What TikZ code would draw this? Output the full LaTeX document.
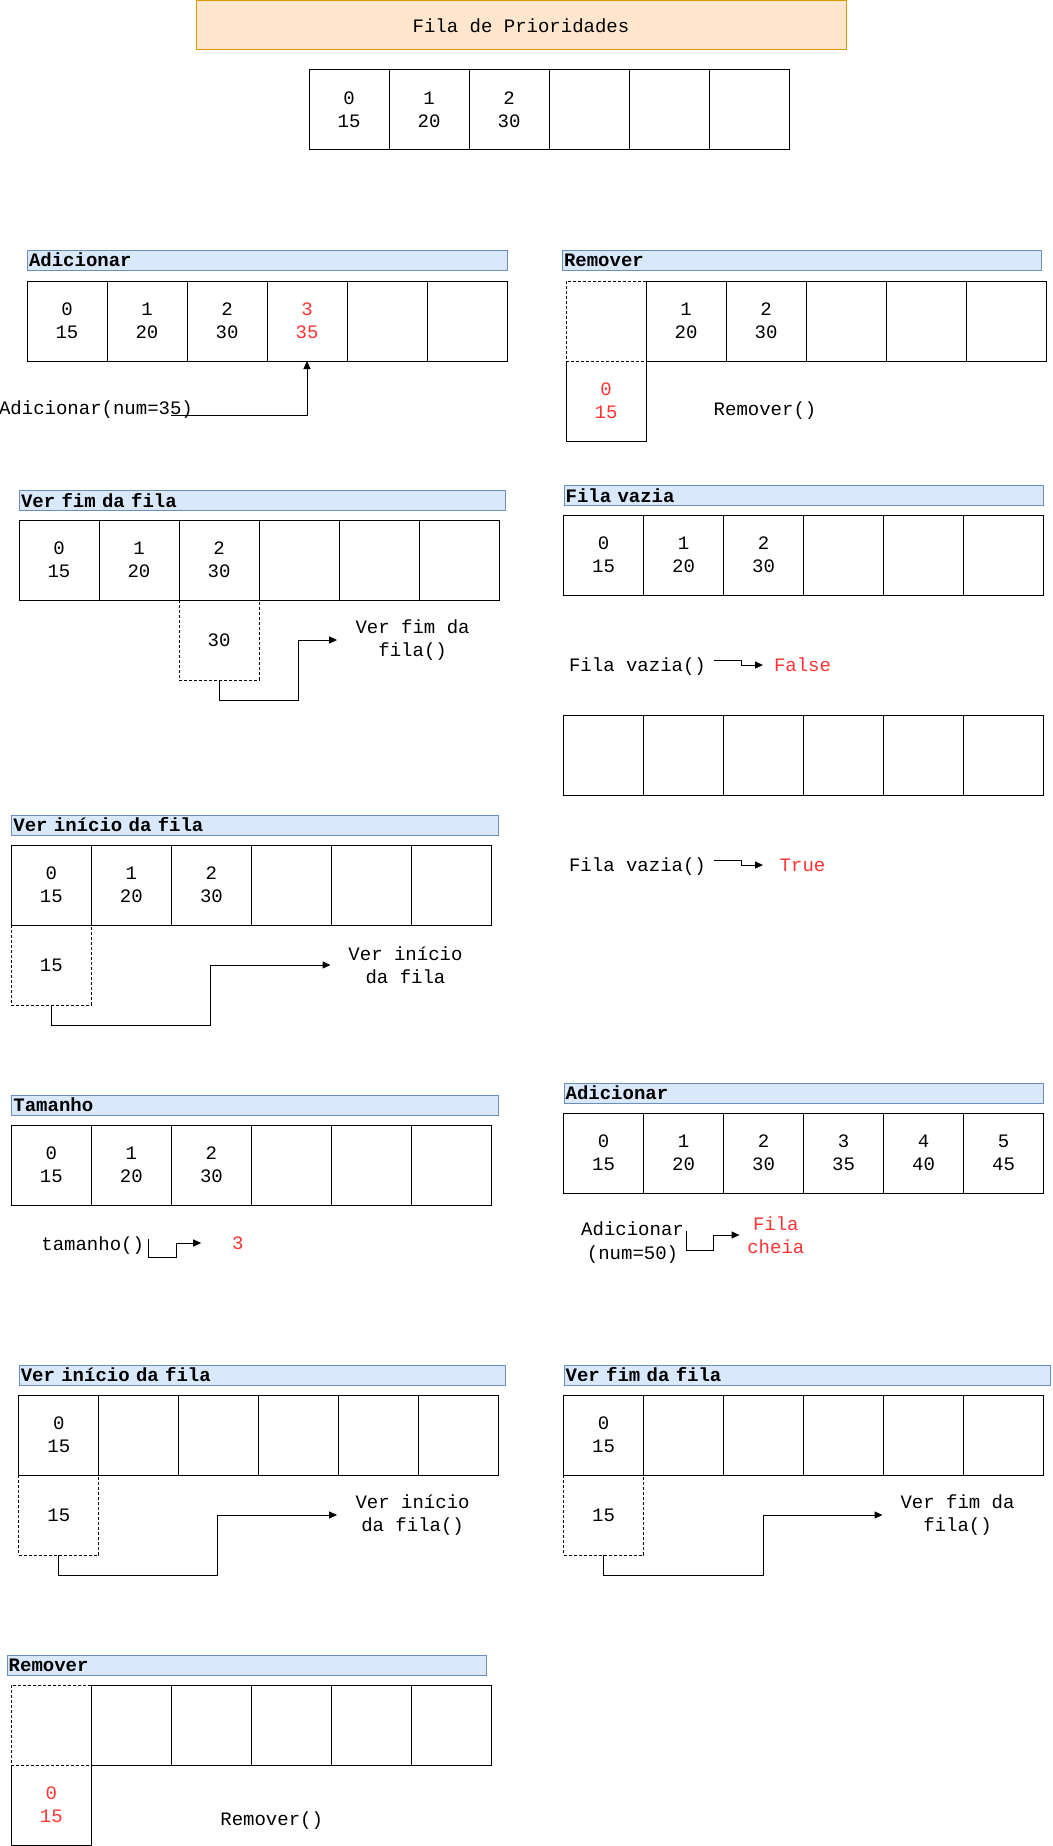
\documentclass[tikz,border=0pt]{standalone}
\usepackage{fontspec}
\newfontfamily\codefont{Liberation Mono}
\usetikzlibrary{arrows.meta, positioning}
\definecolor{titlefill}{HTML}{FFE6CC}
\definecolor{titleline}{HTML}{D79B00}
\definecolor{headfill}{HTML}{DAE8FC}
\definecolor{headline}{HTML}{6C8EBF}
\definecolor{alert}{HTML}{FF3333}

\begin{document}
\begin{tikzpicture}[x=1pt, y=-1pt, line width=1pt,
        every node/.style={font=\codefont\fontsize{19}{23.3}\selectfont},
        banner/.style={rectangle, draw=titleline, fill=titlefill, minimum width=650pt, minimum height=49pt},
        header/.style={rectangle, draw=headline, fill=headfill, anchor=west, minimum height=20pt, inner xsep=1.5pt, inner ysep=0pt, text width=477pt, align=left, font=\codefont\bfseries\fontsize{19}{23.3}\selectfont},
        cell/.style={rectangle, draw=black, minimum width=80pt, minimum height=80pt, inner sep=0pt, outer sep=0pt, align=center},
        hole/.style={cell, dash pattern=on 3pt off 2pt},
        popped/.style={cell, draw=none, text=alert},
        call/.style={align=center, inner sep=0pt},
        result/.style={align=center, inner sep=0pt, text=alert},
        arrow/.style={-{Triangle[length=8pt, width=7pt]}, draw=black}
    ]
        \useasboundingbox (0, 0) rectangle (1052, 1846);

        % Title and queue
        \node[banner] (title) at (521, 25.5) {Fila de Prioridades};
        \node[cell] (top0) at (349, 110) {0\\15};
        \node[cell, right=0pt of top0] (top1) {1\\20};
        \node[cell, right=0pt of top1] (top2) {2\\30};
        \node[cell, right=0pt of top2] (top3) {};
        \node[cell, right=0pt of top3] (top4) {};
        \node[cell, right=0pt of top4] (top5) {};

        % Adicionar
        \node[header] (addHead) at (27, 260) {Adicionar};
        \node[cell] (add0) at (67, 321) {0\\15};
        \node[cell, right=0pt of add0] (add1) {1\\20};
        \node[cell, right=0pt of add1] (add2) {2\\30};
        \node[cell, right=0pt of add2, text=alert] (add3) {3\\35};
        \node[cell, right=0pt of add3] (add4) {};
        \node[cell, right=0pt of add4] (add5) {};
        \node[call] (addCall) at (96, 410) {Adicionar(num=35)};
        \draw[arrow] ([xshift=-22pt, yshift=-5pt]addCall.east) -| (add3.south);

        % Remover
        \node[header, text width=476pt] (remHead) at (562, 260) {Remover};
        \node[hole] (rem0) at (606, 321) {};
        \node[cell, right=0pt of rem0] (rem1) {1\\20};
        \node[cell, right=0pt of rem1] (rem2) {2\\30};
        \node[cell, right=0pt of rem2] (rem3) {};
        \node[cell, right=0pt of rem3] (rem4) {};
        \node[cell, right=0pt of rem4] (rem5) {};
        \node[popped, below=0pt of rem0] (remOut) {0\\15};
        \draw (remOut.north west) -- (remOut.south west) -- (remOut.south east) -- (remOut.north east);
        \node[call] (remCall) at (765, 411) {Remover()};

        % Ver fim da fila
        \node[header, text width=483pt] (fimHead) at (19, 500.5) {Ver fim da fila};
        \node[cell] (fim0) at (59, 560) {0\\15};
        \node[cell, right=0pt of fim0] (fim1) {1\\20};
        \node[cell, right=0pt of fim1] (fim2) {2\\30};
        \node[cell, right=0pt of fim2] (fim3) {};
        \node[cell, right=0pt of fim3] (fim4) {};
        \node[cell, right=0pt of fim4] (fim5) {};
        \node[hole, below=0pt of fim2] (fimOut) {30};
        \node[call, minimum width=150pt] (fimCall) at (412.6, 640) {Ver fim da\\fila()};
        \draw[arrow] (fimOut.south) -- ++(0, 20) -| ([xshift=-39pt]fimCall.west) -- (fimCall.west);

        % Fila vazia
        \node[header, text width=476.5pt] (vazHead) at (563.6, 495.5) {Fila vazia};
        \node[cell] (vaz0) at (603.6, 555) {0\\15};
        \node[cell, right=0pt of vaz0] (vaz1) {1\\20};
        \node[cell, right=0pt of vaz1] (vaz2) {2\\30};
        \node[cell, right=0pt of vaz2] (vaz3) {};
        \node[cell, right=0pt of vaz3] (vaz4) {};
        \node[cell, right=0pt of vaz4] (vaz5) {};
        \node[call, minimum width=151pt] (vazCallA) at (637.5, 666.5) {Fila vazia()};
        \node[result, minimum width=78pt] (vazFalse) at (802.5, 665) {False};
        \draw[arrow] ([yshift=6pt]vazCallA.east) -- ++(28, 0) |- (vazFalse.west);

        \node[cell] (vazio0) at (603.6, 755) {};
        \node[cell, right=0pt of vazio0] (vazio1) {};
        \node[cell, right=0pt of vazio1] (vazio2) {};
        \node[cell, right=0pt of vazio2] (vazio3) {};
        \node[cell, right=0pt of vazio3] (vazio4) {};
        \node[cell, right=0pt of vazio4] (vazio5) {};
        \node[call, minimum width=151pt] (vazCallB) at (637.5, 866.5) {Fila vazia()};
        \node[result, minimum width=78pt] (vazTrue) at (802.5, 865) {True};
        \draw[arrow] ([yshift=6pt]vazCallB.east) -- ++(28, 0) |- (vazTrue.west);

        % Ver inicio da fila
        \node[header, text width=484pt] (iniHead) at (11.4, 825) {Ver início da fila};
        \node[cell] (ini0) at (51.4, 885) {0\\15};
        \node[cell, right=0pt of ini0] (ini1) {1\\20};
        \node[cell, right=0pt of ini1] (ini2) {2\\30};
        \node[cell, right=0pt of ini2] (ini3) {};
        \node[cell, right=0pt of ini3] (ini4) {};
        \node[cell, right=0pt of ini4] (ini5) {};
        \node[hole, below=0pt of ini0] (iniOut) {15};
        \node[call, minimum width=149pt] (iniCall) at (405.5, 965) {Ver início\\da fila};
        \draw[arrow] (iniOut.south) -- ++(0, 20) -| ([xshift=-120pt]iniCall.west) -- (iniCall.west);

        % Tamanho
        \node[header, text width=484pt] (tamHead) at (11.4, 1105) {Tamanho};
        \node[cell] (tam0) at (51.4, 1165) {0\\15};
        \node[cell, right=0pt of tam0] (tam1) {1\\20};
        \node[cell, right=0pt of tam1] (tam2) {2\\30};
        \node[cell, right=0pt of tam2] (tam3) {};
        \node[cell, right=0pt of tam3] (tam4) {};
        \node[cell, right=0pt of tam4] (tam5) {};
        \node[call, minimum width=111pt] (tamCall) at (92.7, 1246) {tamanho()};
        \node[result, minimum width=72pt] (tamVal) at (237.7, 1243) {3};
        \draw[arrow] ([yshift=7pt]tamCall.east) -- ++(0, 18.7) -- ++(27.4, 0) |- (tamVal.west);

        % Adicionar com fila cheia
        \node[header, text width=476.5pt] (cheiaHead) at (563.6, 1093) {Adicionar};
        \node[cell] (cheia0) at (603.6, 1153) {0\\15};
        \node[cell, right=0pt of cheia0] (cheia1) {1\\20};
        \node[cell, right=0pt of cheia1] (cheia2) {2\\30};
        \node[cell, right=0pt of cheia2] (cheia3) {3\\35};
        \node[cell, right=0pt of cheia3] (cheia4) {4\\40};
        \node[cell, right=0pt of cheia4] (cheia5) {5\\45};
        \node[call, minimum width=106.4pt] (cheiaCall) at (632.5, 1242.5) {Adicionar\\(num=50)};
        \node[result, minimum width=71.6pt] (cheiaMsg) at (775.8, 1235) {Fila\\cheia};
        \draw[arrow] ([yshift=11.8pt]cheiaCall.east) -- ++(0, 19.3) -- ++(27.6, 0) |- (cheiaMsg.west);

        % Ver inicio da fila (um elemento)
        \node[header, text width=483pt] (iniBHead) at (18.8, 1375) {Ver início da fila};
        \node[cell] (iniB0) at (58.8, 1435) {0\\15};
        \node[cell, right=0pt of iniB0] (iniB1) {};
        \node[cell, right=0pt of iniB1] (iniB2) {};
        \node[cell, right=0pt of iniB2] (iniB3) {};
        \node[cell, right=0pt of iniB3] (iniB4) {};
        \node[cell, right=0pt of iniB4] (iniB5) {};
        \node[hole, below=0pt of iniB0] (iniBOut) {15};
        \node[call, minimum width=150pt] (iniBCall) at (412.6, 1515) {Ver início\\da fila()};
        \draw[arrow] (iniBOut.south) -- ++(0, 20) -| ([xshift=-119.5pt]iniBCall.west) -- (iniBCall.west);

        % Ver fim da fila (um elemento)
        \node[header, text width=483.4pt] (fimBHead) at (563.6, 1375) {Ver fim da fila};
        \node[cell] (fimB0) at (603.6, 1435) {0\\15};
        \node[cell, right=0pt of fimB0] (fimB1) {};
        \node[cell, right=0pt of fimB1] (fimB2) {};
        \node[cell, right=0pt of fimB2] (fimB3) {};
        \node[cell, right=0pt of fimB3] (fimB4) {};
        \node[cell, right=0pt of fimB4] (fimB5) {};
        \node[hole, below=0pt of fimB0] (fimBOut) {15};
        \node[call, minimum width=149pt] (fimBCall) at (957.5, 1515) {Ver fim da\\fila()};
        \draw[arrow] (fimBOut.south) -- ++(0, 20) -| ([xshift=-119.5pt]fimBCall.west) -- (fimBCall.west);

        % Remover (ultimo elemento)
        \node[header, text width=476.7pt] (remBHead) at (6.7, 1665) {Remover};
        \node[hole] (remB0) at (51.4, 1725) {};
        \node[cell, right=0pt of remB0] (remB1) {};
        \node[cell, right=0pt of remB1] (remB2) {};
        \node[cell, right=0pt of remB2] (remB3) {};
        \node[cell, right=0pt of remB3] (remB4) {};
        \node[cell, right=0pt of remB4] (remB5) {};
        \node[popped, below=0pt of remB0] (remBOut) {0\\15};
        \draw (remBOut.north west) -- (remBOut.south west) -- (remBOut.south east) -- (remBOut.north east);
        \node[call] (remBCall) at (271.7, 1820.7) {Remover()};
\end{tikzpicture}
\end{document}
